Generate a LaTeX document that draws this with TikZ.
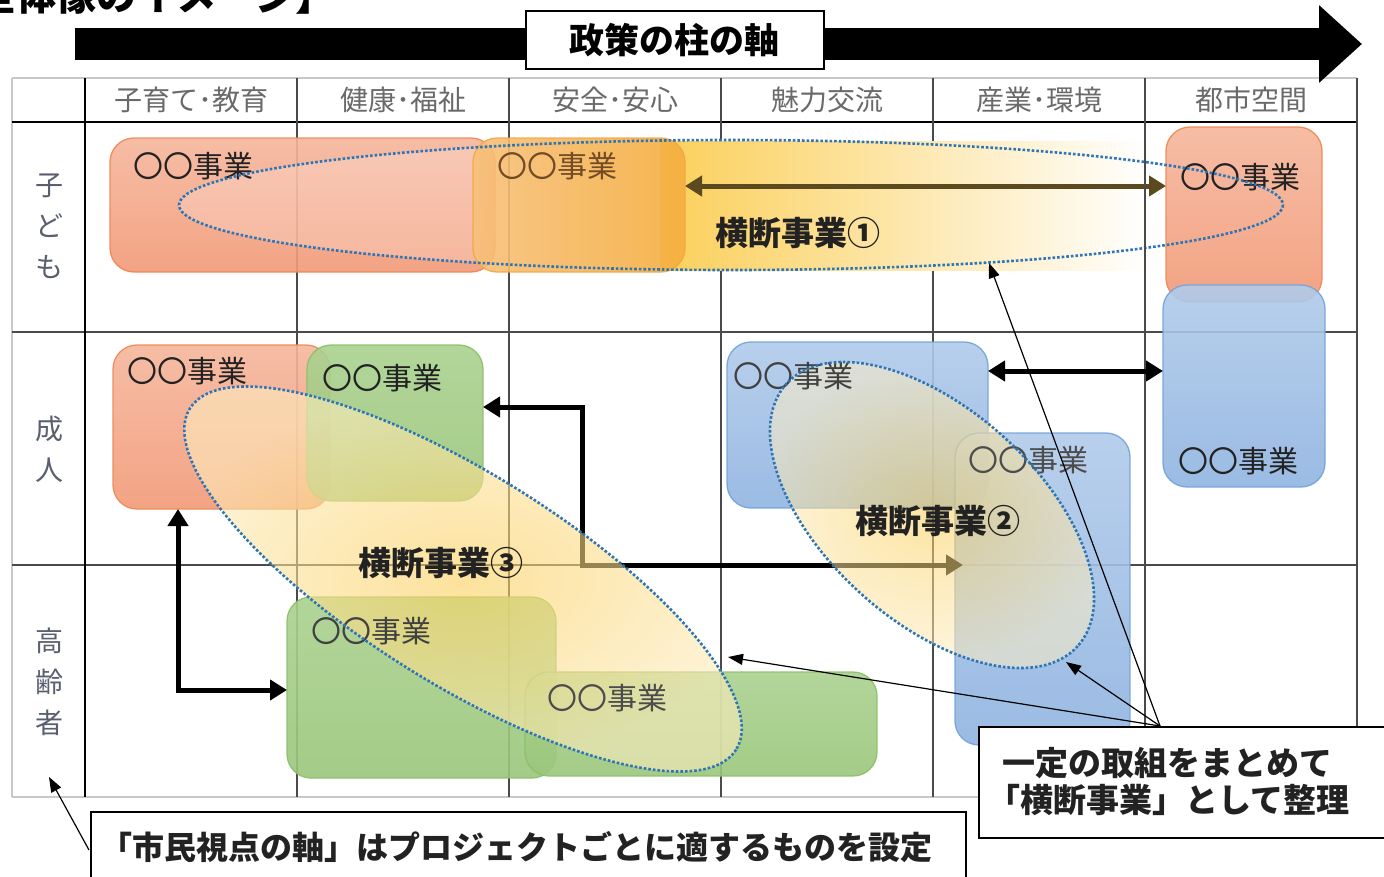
\documentclass[tikz,border=0pt]{standalone}
\usepackage{fontspec}
\newfontfamily\jp{Noto Sans CJK JP}
\usetikzlibrary{arrows.meta}
\newcommand\fsz[1]{\fontsize{#1}{#1}\selectfont}
\definecolor{gridgray}{HTML}{4A4A4A}
\definecolor{lightgray}{HTML}{C8C8C8}
\definecolor{salT}{HTML}{F6B69C}
\definecolor{salB}{HTML}{F29A77}
\definecolor{salD}{HTML}{EF8652}
\definecolor{orL}{HTML}{F8C07A}
\definecolor{orR}{HTML}{F5AE3E}
\definecolor{orD}{HTML}{EFA944}
\definecolor{grT}{HTML}{AAD28F}
\definecolor{grB}{HTML}{9BC67B}
\definecolor{grD}{HTML}{8DBF69}
\definecolor{blT}{HTML}{B1CBEA}
\definecolor{blB}{HTML}{90B4E1}
\definecolor{blD}{HTML}{72A2D9}
\definecolor{ylw}{HTML}{FBCF5A}
\definecolor{dotblue}{HTML}{2E75B6}
\definecolor{hdr}{HTML}{6A6A6A}
\definecolor{rowc}{HTML}{5A5F70}
\definecolor{brownarr}{HTML}{5B4A20}
\definecolor{txtdark}{HTML}{222222}
\begin{document}
\begin{tikzpicture}[x=1pt,y=-1pt,
  bx/.style={rounded corners=24pt, line width=1.3pt, inner sep=0pt, outer sep=0pt,
    anchor=north west, fill opacity=0.9, draw opacity=0.9},
  salmon/.style={bx, draw=salD, top color=salT, bottom color=salB},
  orange/.style={bx, draw=orD, left color=orL, right color=orR},
  green/.style={bx, draw=grD, top color=grT, bottom color=grB},
  blue/.style={bx, draw=blD, top color=blT, bottom color=blB},
  lbl/.style={font=\jp\fsz{30}, anchor=west, inner sep=0pt, text=txtdark},
  big/.style={font=\jp\bfseries\fsz{33}, inner sep=0pt, text=txtdark},
  hdrtxt/.style={font=\jp\fsz{28}, inner sep=0pt, text=hdr},
  rowtxt/.style={font=\jp\fontsize{28}{41}\selectfont, align=center, inner sep=0pt, text=rowc},
  gline/.style={line width=1.4pt, draw=gridgray},
  lline/.style={line width=1.4pt, draw=lightgray},
  dbl/.style={line width=5pt, arrows={Triangle[length=17pt,width=20pt]-Triangle[length=17pt,width=20pt]}},
  leader/.style={line width=1.2pt, arrows={-Triangle[length=15pt,width=11pt]}},
  dotell/.style={draw=dotblue, line width=2.6pt, dash pattern=on 2.6pt off 2pt},
  callout/.style={draw=black, line width=2pt, fill=white, inner sep=0pt, anchor=north west}
]
\useasboundingbox (0,0) rectangle (1384,876);
\fill[white] (0,0) rectangle (1384,876);

% cropped title
\node[anchor=base east, font=\jp\bfseries\fsz{40}, inner sep=0pt] (title) at (336,10) {【全体像のイメージ】};

% grid
\draw[lline] (12,78) -- (1357,78);
\draw[lline] (12,797) -- (1357,797);
\draw[lline] (12,78) -- (12,797);
\draw[line width=2pt, draw=black] (12,122) -- (1357,122);
\draw[gline] (12,332) -- (1357,332);
\draw[gline] (12,565) -- (1357,565);
\draw[line width=1.6pt, draw=black] (85,78) -- (85,797);
\foreach \xx in {297,509,721,933,1145,1357}{\draw[gline] (\xx,78) -- (\xx,797);}

% top axis arrow
\coordinate (ha) at (75,44);
\coordinate (hb) at (1362,44);
\draw[line width=32pt, arrows={-Triangle[length=43pt,width=75pt]}] (ha) -- (hb);
\node[draw=black, line width=1.6pt, fill=white, minimum width=298, minimum height=58, anchor=north west, inner sep=0pt,
  font=\jp\bfseries\fsz{35}] (axis) at (525,10) {政策の柱の軸};

% column headers
\node[hdrtxt] (h1) at (191,100) {子育て･教育};
\node[hdrtxt] (h2) at (403,100) {健康･福祉};
\node[hdrtxt] (h3) at (615,100) {安全･安心};
\node[hdrtxt] (h4) at (827,100) {魅力交流};
\node[hdrtxt] (h5) at (1039,100) {産業･環境};
\node[hdrtxt] (h6) at (1251,100) {都市空間};

% row labels
\node[rowtxt] (r1) at (49,226) {子\\ど\\も};
\node[rowtxt] (r2) at (49,449) {成\\人};
\node[rowtxt] (r3) at (49,682) {高\\齢\\者};

% yellow band of cross project 1
\shade[left color=ylw, right color=white] (660,141) rectangle (1150,270);

% project boxes
\node[salmon, minimum width=385, minimum height=134] (A) at (110,138) {};
\begin{scope}
  \clip (100,130) rectangle (480,280);
  \fill[white, fill opacity=0.2] (731,205) ellipse [x radius=552, y radius=65];
\end{scope}
\node[orange, minimum width=212, minimum height=134] (B) at (473,138) {};
\node[salmon, minimum width=156, minimum height=175] (C) at (1166,127) {};
\node[blue, minimum width=162, minimum height=202] (H) at (1163,285) {};
\node[salmon, minimum width=217, minimum height=164] (D) at (113,345) {};
\node[green, minimum width=176, minimum height=156] (E) at (307,345) {};
\node[blue, minimum width=261, minimum height=166] (F) at (727,342) {};
\node[blue, minimum width=175, minimum height=312] (G) at (955,433) {};
\node[green, minimum width=269, minimum height=181] (I) at (287,597) {};
\node[green, minimum width=352, minimum height=104] (J) at (525,672) {};

% connectors
\coordinate (ra) at (700,186);
\draw[dbl, draw=brownarr, fill=brownarr] (ra -| B.east) -- (ra -| C.west);
\coordinate (rb) at (1000,371);
\draw[dbl] (rb -| F.east) -- (rb -| H.west);
\coordinate (ca) at (582,407);
\coordinate (cb) at (582,565);
\draw[dbl] (ca -| E.east) -- (ca) -- (cb) -- ([xshift=8pt]cb -| G.west);
\coordinate (cc) at (178,690);
\draw[dbl] (cc |- D.south) -- (cc) -- (cc -| I.west);

% translucent fills of cross projects
\shade[inner color=ylw, outer color=ylw!35, fill opacity=0.55, rotate around={-42:(932,515)}]
  (932,515) ellipse [x radius=196, y radius=106];
\shade[inner color=ylw, outer color=ylw!40, fill opacity=0.6, rotate around={-32:(463,579)}]
  (463,579) ellipse [x radius=322, y radius=105];

% box labels
\node[lbl] (At) at (133,166) {〇〇事業};
\node[lbl, text=brown!60!black] (Bt) at (497,166) {〇〇事業};
\node[lbl] (Ct) at (1180,177) {〇〇事業};
\node[lbl] (Ht) at (1178,461) {〇〇事業};
\node[lbl] (Dt) at (127,371) {〇〇事業};
\node[lbl] (Et) at (322,378) {〇〇事業};
\node[lbl, text=black!75] (Ft) at (733,376) {〇〇事業};
\node[lbl, text=black!70] (Gt) at (968,460) {〇〇事業};
\node[lbl, text=black!75] (It) at (311,631) {〇〇事業};
\node[lbl, text=black!70] (Jt) at (547,698) {〇〇事業};

% dotted outlines
\draw[dotell] (731,205) ellipse [x radius=552, y radius=65];
\draw[dotell, rotate around={-42:(932,515)}] (932,515) ellipse [x radius=196, y radius=106];
\draw[dotell, rotate around={-32:(463,579)}] (463,579) ellipse [x radius=322, y radius=105];

% cross project titles
\node[big] (X1) at (798,233) {横断事業①};
\node[big] (X2) at (938,521) {横断事業②};
\node[big] (X3) at (441,563) {横断事業③};

% darker grid segments
\draw[line width=1.6pt, draw=gridgray] (1145,140) -- (1145,272);
\draw[line width=1.6pt, draw=gridgray] (1145,433) -- (1145,618);

% callouts
\node[callout, minimum width=420, minimum height=111] (K) at (978,726) {};
\node[font=\jp\bfseries\fsz{33}, anchor=west, align=left, inner sep=0pt, text=txtdark] (Kt) at (1002,782)
  {一定の取組をまとめて\\[4pt]\hspace*{-0.45em}「横断事業」として整理};
\coordinate (co) at (1160,726);
\coordinate (t1) at (989,263);
\coordinate (t2) at (1066,662);
\coordinate (t3) at (728,657);
\draw[leader] (co) -- (t1);
\draw[leader] (co) -- (t2);
\draw[leader] (co) -- (t3);

\node[callout, minimum width=875, minimum height=90] (L) at (90,811) {};
\node[font=\jp\bfseries\fsz{32}, anchor=west, inner sep=0pt, text=txtdark] (Lt) at (100,847)
  {「市民視点の軸」はプロジェクトごとに適するものを設定};
\coordinate (l0) at (89,850);
\coordinate (l1) at (49,777);
\draw[leader] (l0) -- (l1);
\end{tikzpicture}
\end{document}
